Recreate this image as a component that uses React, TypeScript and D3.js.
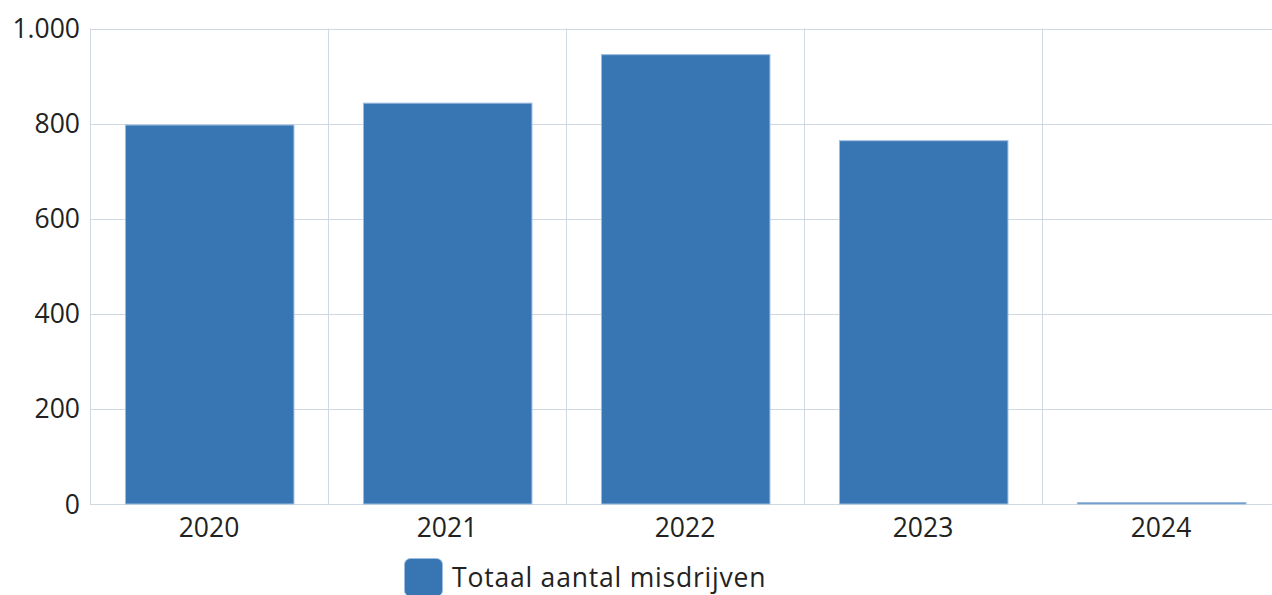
import React from "react";
import * as d3 from "d3";

const categories = ["2020", "2021", "2022", "2023", "2024"];
const values = [797, 843, 945, 764, 3];
const yTicks = [0, 200, 400, 600, 800, 1000];
const seriesName = "Totaal aantal misdrijven";

const W = 1272;
const H = 595;
const left = 90;
const right = 1280;
const top = 28.5;
const bottom = 504;

export default function App() {
  const x = d3.scaleBand<string>().domain(categories).range([left, right]).paddingInner(0).paddingOuter(0);
  const y = d3.scaleLinear().domain([0, 1000]).range([bottom, top]);
  const bw = x.bandwidth();
  const barW = bw * 0.708;
  const fmt = (v: number) => d3.format(",")(v).replace(/,/g, ".");
  const font = "'Open Sans', 'Noto Sans', sans-serif";
  const grid = "#d0d8e2";
  return (
    <svg width={W} height={H} style={{ position: "absolute", left: 0, top: 0, background: "#fff" }} fontFamily={font}>
      {yTicks.map((t) => (
        <g key={t}>
          <line x1={left} x2={right} y1={Math.round(y(t)) + 0.5} y2={Math.round(y(t)) + 0.5} stroke={grid} strokeWidth={1} />
          <text x={80} y={y(t)} dy="0.36em" textAnchor="end" fontSize={26.5} fill="#222">{fmt(t)}</text>
        </g>
      ))}
      {categories.map((c) => (
        <line key={c} x1={Math.round(x(c)!) + 0.5} x2={Math.round(x(c)!) + 0.5} y1={top} y2={bottom} stroke={grid} strokeWidth={1} />
      ))}
      {categories.map((c, i) => {
        const cx = x(c)! + bw / 2 + 0.7;
        const yy = y(values[i]);
        return (
          <rect key={c} x={cx - barW / 2} y={yy} width={barW} height={Math.max(bottom - yy, 1)} fill="#3776b2" stroke="#9dbde0" strokeWidth={1} />
        );
      })}
      {categories.map((c) => (
        <text key={c} x={x(c)! + bw / 2} y={537} textAnchor="middle" fontSize={26.5} fill="#222">{c}</text>
      ))}
      <rect x={404.5} y={558.5} width={38} height={38} rx={6} fill="#3776b2" stroke="#9dbde0" />
      <text x={452} y={587} fontSize={26.5} fill="#222" letterSpacing={0.8}>{seriesName}</text>
    </svg>
  );
}
